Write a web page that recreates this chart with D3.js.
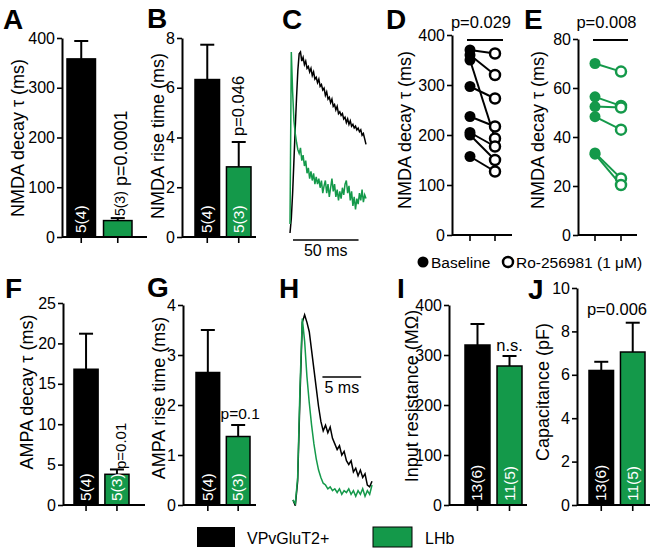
<!DOCTYPE html>
<html><head><meta charset="utf-8">
<script src="https://cdn.jsdelivr.net/npm/d3@7"></script>
<style>body{margin:0;background:#fff}</style>
</head><body><svg id="c" width="656" height="549"></svg>
<script>
const FONT = '"Liberation Sans", Arial, Helvetica, sans-serif';
const GREEN = "#14994a";
const groups = ["VPvGluT2+", "LHb"];
const groupColors = ["#000000", GREEN];

// Bar panels: mean and SEM per group
const nmdaDecayMean = [358, 33],  nmdaDecaySem = [36, 5];
const nmdaRiseMean  = [6.33, 2.82], nmdaRiseSem = [1.4, 1.0];
const ampaDecayMean = [16.8, 3.8], ampaDecaySem = [4.4, 0.6];
const ampaRiseMean  = [2.65, 1.37], ampaRiseSem = [0.85, 0.23];
const inputResMean  = [320, 278], inputResSem = [42, 20];
const capMean       = [6.2, 7.05], capSem = [0.4, 1.35];
const nLabelsSyn  = ["5(4)", "5(3)"];
const nLabelsCell = ["13(6)", "11(5)"];

// Tick values
const ticksA = [0, 100, 200, 300, 400];
const ticksB = [0, 2, 4, 6, 8];
const ticksD = [0, 100, 200, 300, 400];
const ticksE = [0, 20, 40, 60, 80];
const ticksF = [0, 5, 10, 15, 20, 25];
const ticksG = [0, 1, 2, 3, 4];
const ticksI = [0, 100, 200, 300, 400];
const ticksJ = [0, 2, 4, 6, 8, 10];

// Paired data (baseline -> Ro-256981)
const conditions = ["Baseline", "Ro-256981 (1 μM)"];
const dBaseline = [370, 360, 350, 297, 237, 205, 200, 157];
const dRo       = [363, 320, 193, 273, 217, 177, 150, 127];
const eBaseline = [70, 56.4, 52.4, 48.3, 33.5, 33];
const eRo       = [66.7, 52.7, 52, 43, 23.1, 20.4];

// Traces (normalized amplitude); C sampled every 1 ms, H every 0.3 ms
const cDt = 1;
const cBlack = [0.00,0.08,0.22,0.40,0.58,0.75,0.90,0.99,1.00,0.95,0.97,0.93,0.95,0.91,0.92,0.89,0.91,0.87,0.89,0.85,0.86,0.83,0.85,0.81,0.82,0.79,0.80,0.76,0.78,0.74,0.75,0.72,0.74,0.70,0.71,0.68,0.70,0.66,0.67,0.65,0.66,0.63,0.64,0.61,0.63,0.60,0.62,0.59,0.60,0.58,0.59,0.57,0.58,0.56,0.57,0.54,0.55,0.52,0.49];
const cGreen = [0.05,1.00,0.78,0.62,0.55,0.50,0.46,0.44,0.47,0.40,0.43,0.37,0.40,0.33,0.36,0.30,0.34,0.29,0.33,0.27,0.31,0.27,0.30,0.25,0.29,0.22,0.26,0.29,0.22,0.27,0.20,0.25,0.30,0.23,0.27,0.20,0.24,0.18,0.23,0.19,0.25,0.21,0.27,0.29,0.22,0.26,0.18,0.23,0.15,0.20,0.13,0.19,0.16,0.22,0.18,0.24,0.17,0.21,0.19];
const hDt = 0.3;
const hBlack = [0.00,-0.03,0.10,0.55,0.95,0.99,0.95,0.90,0.80,0.70,0.60,0.50,0.42,0.37,0.40,0.36,0.39,0.33,0.30,0.27,0.29,0.24,0.26,0.21,0.19,0.21,0.15,0.17,0.13,0.16,0.12,0.14,0.08,0.07,0.10];
const hGreen = [0.00,-0.02,0.12,0.60,0.97,0.85,0.66,0.52,0.40,0.30,0.22,0.16,0.12,0.09,0.08,0.06,0.07,0.05,0.06,0.04,0.06,0.03,0.05,0.04,0.06,0.03,0.05,0.02,0.05,0.03,0.06,0.02,0.05,0.03,0.08];

const svg = d3.select("#c");

function txt(x, y, s, size, opts = {}) {
  const t = svg.append("text").attr("x", x).attr("y", y).text(s)
    .style("font-family", FONT).style("font-size", size + "px")
    .attr("fill", opts.fill || "#000")
    .attr("text-anchor", opts.anchor || "start");
  if (opts.bold) t.style("font-weight", "bold");
  return t;
}
function rtxt(x, y, s, size, opts = {}) {
  return svg.append("text").attr("transform", `translate(${x},${y}) rotate(-90)`).text(s)
    .style("font-family", FONT).style("font-size", size + "px")
    .attr("fill", opts.fill || "#000")
    .attr("text-anchor", opts.anchor || "middle");
}
function yAxis(scale, ticks, x) {
  const g = svg.append("g").attr("transform", `translate(${x},0)`)
    .call(d3.axisLeft(scale).tickValues(ticks).tickFormat(d3.format("~g"))
      .tickSize(5).tickSizeOuter(0).tickPadding(2));
  g.select(".domain").attr("stroke", "#000").attr("stroke-width", 2);
  g.selectAll(".tick line").attr("stroke", "#000").attr("stroke-width", 1.6);
  g.selectAll(".tick text").attr("fill", "#000").style("font-size", "16px").style("font-family", FONT);
}
function xAxisLine(x0, x1, y, centers) {
  svg.append("line").attr("x1", x0).attr("x2", x1).attr("y1", y).attr("y2", y)
    .attr("stroke", "#000").attr("stroke-width", 2);
  centers.forEach(c => svg.append("line").attr("x1", c).attr("x2", c).attr("y1", y).attr("y2", y + 6)
    .attr("stroke", "#000").attr("stroke-width", 1.6));
}

function barPanel(o) {
  const y = d3.scaleLinear().domain([0, o.max]).range([o.y0, o.y1]);
  const x = d3.scaleBand().domain(groups).range(o.bx).paddingInner(0.22);
  const bw = x.bandwidth();
  groups.forEach((k, i) => {
    const cx = x(k) + bw / 2;
    svg.append("line").attr("x1", cx).attr("x2", cx).attr("y1", y(o.mean[i])).attr("y2", y(o.mean[i] + o.sem[i]))
      .attr("stroke", "#000").attr("stroke-width", 2);
    svg.append("line").attr("x1", cx - 7).attr("x2", cx + 7)
      .attr("y1", y(o.mean[i] + o.sem[i])).attr("y2", y(o.mean[i] + o.sem[i]))
      .attr("stroke", "#000").attr("stroke-width", 2);
    svg.append("rect").attr("x", x(k)).attr("width", bw)
      .attr("y", y(o.mean[i])).attr("height", y(0) - y(o.mean[i]))
      .attr("fill", groupColors[i]).attr("stroke", "#000").attr("stroke-width", 1.5);
  });
  yAxis(y, o.ticks, o.ax);
  xAxisLine(o.ax, o.xEnd, o.y0, groups.map(k => x(k) + bw / 2));
  rtxt(o.titleX, o.titleY, o.title, 18);
  groups.forEach((k, i) => {
    const cx = x(k) + bw / 2;
    const above = o.labelAbove && o.labelAbove[i];
    if (above) {
      rtxt(cx + 7, y(o.mean[i] + o.sem[i]) - 2, o.labels[i], 14, {anchor: "start"});
    } else {
      rtxt(cx + 5, o.y0 - 4, o.labels[i], 15.5, {anchor: "start", fill: "#fff"});
    }
  });
  return {x, y, bw};
}

// Panel letters
[["A",3,29],["B",147,28],["C",282,29],["D",386,29],["E",524,29],
 ["F",5,298],["G",147,297],["H",279,298],["I",397,298],["J",528,299]].forEach(d =>
  txt(d[1], d[2], d[0], 28, {bold: true}));

// A
const pA = barPanel({ax:62, xEnd:147, y0:237, y1:38, max:400, ticks:ticksA, bx:[67,132],
  mean:nmdaDecayMean, sem:nmdaDecaySem, title:"NMDA decay τ (ms)", titleX:24, titleY:138,
  labels:nLabelsSyn, labelAbove:[false,true]});
rtxt(pA.x("LHb") + pA.bw/2 + 9, 186, "p=0.0001", 18, {anchor:"start"});
// B
const pB = barPanel({ax:182, xEnd:256, y0:237, y1:38, max:8, ticks:ticksB, bx:[195,251],
  mean:nmdaRiseMean, sem:nmdaRiseSem, title:"NMDA rise time (ms)", titleX:164, titleY:136,
  labels:nLabelsSyn});
rtxt(pB.x("LHb") + pB.bw/2 + 5, pB.y(nmdaRiseMean[1] + nmdaRiseSem[1]) - 6, "p=0.046", 16.5, {anchor:"start"});
// F
const pF = barPanel({ax:63, xEnd:145, y0:505, y1:303, max:25, ticks:ticksF, bx:[74,129],
  mean:ampaDecayMean, sem:ampaDecaySem, title:"AMPA decay τ (ms)", titleX:33, titleY:392,
  labels:nLabelsSyn});
rtxt(pF.x("LHb") + pF.bw/2 + 9, 469, "p=0.01", 15, {anchor:"start"});
// G
const pG = barPanel({ax:183, xEnd:256, y0:505, y1:305, max:4, ticks:ticksG, bx:[196,250],
  mean:ampaRiseMean, sem:ampaRiseSem, title:"AMPA rise time (ms)", titleX:165, titleY:398,
  labels:nLabelsSyn});
txt(pG.x("LHb") + pG.bw/2 + 2, 419, "p=0.1", 15.5, {anchor:"middle"});
// I
const pI = barPanel({ax:449, xEnd:527, y0:505, y1:305, max:400, ticks:ticksI, bx:[465,522],
  mean:inputResMean, sem:inputResSem, title:"Input resistance (MΩ)", titleX:418, titleY:396,
  labels:nLabelsCell});
txt(pI.x("LHb") + pI.bw/2, pI.y(inputResMean[1] + inputResSem[1]) - 5, "n.s.", 16.5, {anchor:"middle"});
// J
const pJ = barPanel({ax:577, xEnd:650, y0:505, y1:288, max:10, ticks:ticksJ, bx:[589,645],
  mean:capMean, sem:capSem, title:"Capacitance (pF)", titleX:549, titleY:392,
  labels:nLabelsCell});
txt(617, 315, "p=0.006", 16.5, {anchor:"middle"});

// Paired panels
function pairPanel(o) {
  const y = d3.scaleLinear().domain([0, o.max]).range([o.y0, o.y1]);
  const x = d3.scalePoint().domain(conditions).range(o.px);
  yAxis(y, o.ticks, o.ax);
  xAxisLine(o.ax, o.xEnd, o.y0, conditions.map(c => x(c)));
  rtxt(o.titleX, o.titleY, o.title, 18);
  o.base.forEach((b, i) => {
    svg.append("line").attr("x1", x(conditions[0])).attr("x2", x(conditions[1]))
      .attr("y1", y(b)).attr("y2", y(o.ro[i])).attr("stroke", o.color).attr("stroke-width", 2);
  });
  o.base.forEach(b => svg.append("circle").attr("cx", x(conditions[0])).attr("cy", y(b)).attr("r", 5.5).attr("fill", o.color));
  o.ro.forEach(r => svg.append("circle").attr("cx", x(conditions[1])).attr("cy", y(r)).attr("r", 5)
    .attr("fill", "#fff").attr("stroke", o.color).attr("stroke-width", 2.5));
  svg.append("line").attr("x1", o.sig[0]).attr("x2", o.sig[1]).attr("y1", 40).attr("y2", 40)
    .attr("stroke", "#000").attr("stroke-width", 2);
  txt((o.sig[0] + o.sig[1]) / 2 - 4, 28, o.p, 16.5, {anchor:"middle"});
}
pairPanel({ax:452, xEnd:512, y0:235, y1:35, max:400, ticks:ticksD, px:[470,495], color:"#000",
  base:dBaseline, ro:dRo, title:"NMDA decay τ (ms)", titleX:411, titleY:130, sig:[467,503], p:"p=0.029"});
pairPanel({ax:578, xEnd:637, y0:235, y1:39, max:80, ticks:ticksE, px:[595,621], color:GREEN,
  base:eBaseline, ro:eRo, title:"NMDA decay τ (ms)", titleX:544, titleY:130, sig:[593,628], p:"p=0.008"});

// D/E legend
svg.append("circle").attr("cx", 423).attr("cy", 262).attr("r", 5.5).attr("fill", "#000");
txt(431, 268, conditions[0], 15.5);
svg.append("circle").attr("cx", 508).attr("cy", 262).attr("r", 5).attr("fill", "#fff").attr("stroke", "#000").attr("stroke-width", 2.5);
txt(516, 268, conditions[1], 15.5);

// Traces
function tracePanel(o) {
  const n = o.black.length;
  const x = d3.scaleLinear().domain([0, (n - 1) * o.dt]).range(o.xr);
  const y = d3.scaleLinear().domain([0, 1]).range(o.yr);
  const line = d3.line().x((d, i) => x(i * o.dt)).y(d => y(d));
  svg.append("path").attr("d", line(o.black)).attr("fill", "none").attr("stroke", "#000").attr("stroke-width", 1.5);
  svg.append("path").attr("d", line(o.green)).attr("fill", "none").attr("stroke", GREEN).attr("stroke-width", 1.5);
  svg.append("line").attr("x1", x(o.bar[0])).attr("x2", x(o.bar[0] + o.bar[1])).attr("y1", o.barY).attr("y2", o.barY)
    .attr("stroke", "#000").attr("stroke-width", 1.6);
  txt((x(o.bar[0]) + x(o.bar[0] + o.bar[1])) / 2, o.barY + o.labelDy, o.bar[1] + " ms", 16, {anchor:"middle"});
}
tracePanel({black:cBlack, green:cGreen, dt:cDt, xr:[290, 366], yr:[233, 52], bar:[2.3, 50], barY:240, labelDy:16});
tracePanel({black:hBlack, green:hGreen, dt:hDt, xr:[293, 372], yr:[500, 313], bar:[3.8, 5], barY:377, labelDy:16});

// Bottom legend
svg.append("rect").attr("x", 197).attr("y", 527).attr("width", 38).attr("height", 20).attr("fill", "#000");
txt(247, 544, groups[0], 16);
svg.append("rect").attr("x", 373).attr("y", 527).attr("width", 39).attr("height", 20).attr("fill", GREEN).attr("stroke", "#000").attr("stroke-width", 1);
txt(425, 544, groups[1], 16);
</script></body></html>
